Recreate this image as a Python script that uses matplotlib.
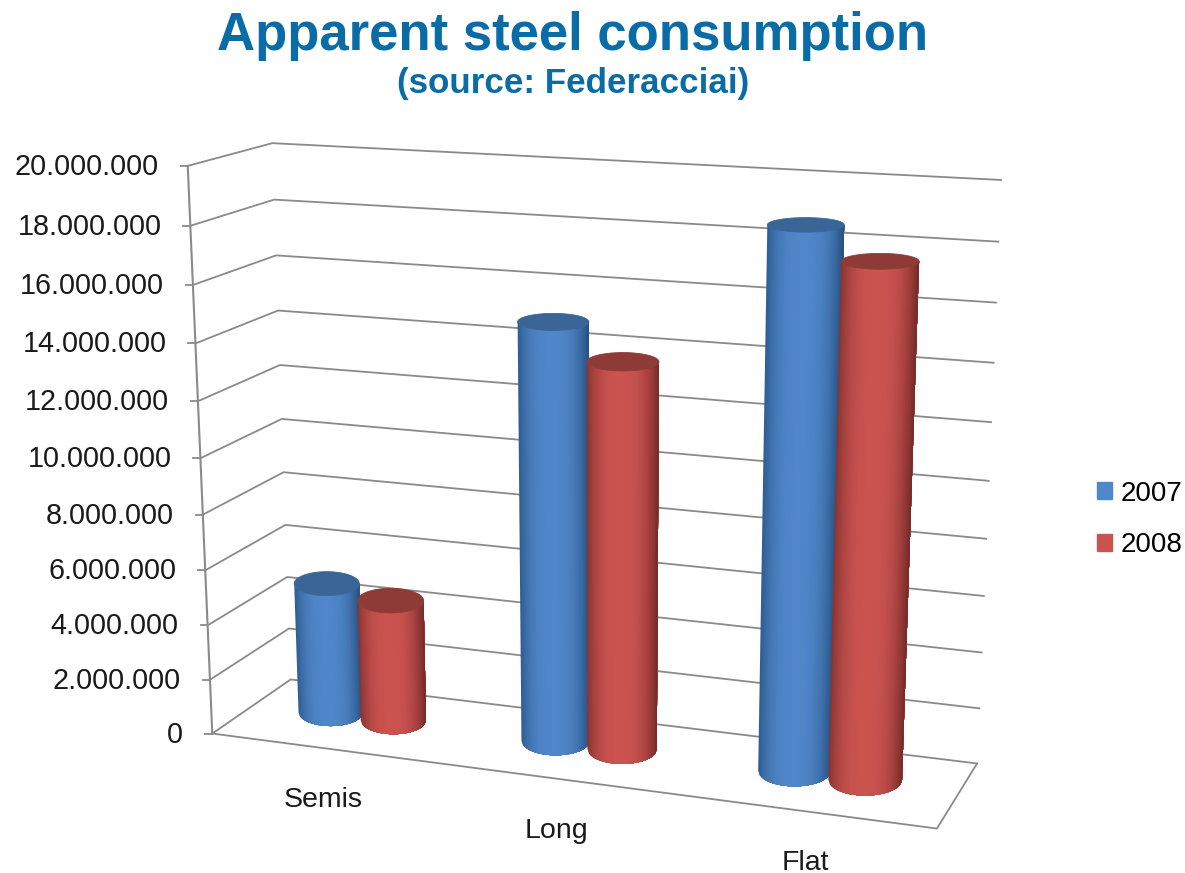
import numpy as np
import matplotlib
matplotlib.use("Agg")
import matplotlib.pyplot as plt
from matplotlib.collections import PolyCollection
from matplotlib.patches import Patch

plt.rcParams['font.family'] = ['Liberation Sans', 'DejaVu Sans']

# data
categories = ["Semis", "Long", "Flat"]
series_names = ["2007", "2008"]
values_2007 = [4850000, 14900000, 18650000]
values_2008 = [4480000, 13720000, 17620000]
tick_values = [0, 2000000, 4000000, 6000000, 8000000, 10000000, 12000000, 14000000, 16000000, 18000000, 20000000]
tick_labels = ["0", "2.000.000", "4.000.000", "6.000.000", "8.000.000", "10.000.000",
               "12.000.000", "14.000.000", "16.000.000", "18.000.000", "20.000.000"]
y_max = 20000000

# colours: centre, edge, top
blue = ("#5087CA", "#2A5688", "#3A6597")
red = ("#CB5350", "#7E2F2D", "#8E3B38")
grid_col = "#8A8A8A"
title_col = "#0A6CA6"

# fit the 3d box of the chart to the picture (x, value, depth) -> pixel
box_world = np.array([[0, 0, 0], [0, 1, 0], [0, 0, 1], [0, 1, 1], [1, 1, 1], [1, 0, 1], [1, 0, 0]], float)
box_pix = np.array([[212, 733], [188, 166], [291, 680], [272, 143], [1001, 180], [977, 763], [937, 829]], float)
rows = []
for (a, b, c), (u, v) in zip(box_world, box_pix):
    rows.append([a, b, c, 1, 0, 0, 0, 0, -u * a, -u * b, -u * c, -u])
    rows.append([0, 0, 0, 0, a, b, c, 1, -v * a, -v * b, -v * c, -v])
cam = np.linalg.svd(np.array(rows))[2][-1].reshape(3, 4)


def project(x, val, z):
    x, val, z = np.broadcast_arrays(np.asarray(x, float), np.asarray(val, float), np.asarray(z, float))
    p = np.stack([x, val / y_max, z, np.ones_like(x)])
    q = cam @ p.reshape(4, -1)
    return (q[0] / q[2]).reshape(x.shape), (q[1] / q[2]).reshape(x.shape)


def ellipse(cx, cz, rx, rz, val, th):
    # level ellipse on screen, sized by the projection at that height
    px, py = project(cx, val, cz)
    x0 = project(cx - rx, val, cz)[0]
    x1 = project(cx + rx, val, cz)[0]
    y0 = project(cx, val, cz + rz)[1]
    y1 = project(cx, val, cz - rz)[1]
    return px + (x1 - x0) / 2 * np.cos(th), py + (y1 - y0) / 2 * np.sin(th)


def cylinder(ax, cx, cz, rx, rz, val, cols):
    # each strip runs on to the right side and the next one paints over it, so no seams
    u = np.linspace(-1, 1, 49)
    th = np.arccos(u)
    bx, by = ellipse(cx, cz, rx, rz, 0, th)
    tx, ty = ellipse(cx, cz, rx, rz, val, th)
    mid = (u[:-1] + u[1:]) / 2
    c0 = np.array(matplotlib.colors.to_rgb(cols[0]))
    c1 = np.array(matplotlib.colors.to_rgb(cols[1]))
    polys, fc = [], []
    for i in range(len(mid)):
        bottom = np.column_stack([bx[i:], by[i:]])
        top = np.column_stack([tx[i:], ty[i:]])[::-1]
        polys.append(np.vstack([bottom, top]))
        s = abs(mid[i] + 0.05) ** 2.6
        fc.append(c0 + (c1 - c0) * s)
    body = PolyCollection(polys, facecolors=fc, edgecolors="none", zorder=3)
    body.set_snap(False)
    ax.add_collection(body)
    cap = np.linspace(0, 2 * np.pi, 121)
    ex, ey = ellipse(cx, cz, rx, rz, val, cap)
    ax.fill(ex, ey, color=cols[2], lw=0.6, zorder=3)


fig = plt.figure(figsize=(11.85, 8.73), dpi=100)
ax = fig.add_axes([0, 0, 1, 1])
ax.set_xlim(0, 1185)
ax.set_ylim(873, 0)
ax.axis("off")

# walls
for v, lab in zip(tick_values, tick_labels):
    xs, ys = project([0, 0, 1], v, [0, 1, 1])
    ax.plot(xs, ys, color=grid_col, lw=1.3, zorder=1)
    ax.plot([xs[0] - 7, xs[0]], [ys[0], ys[0]], color=grid_col, lw=1.3, zorder=1)
    ax.text(xs[0] - 29, ys[0] + 1, lab, ha="right", va="center", fontsize=20.7, color="#1a1a1a")
xs, ys = project([0, 0], [0, y_max], [0, 0])
ax.plot(xs, ys, color=grid_col, lw=1.5, zorder=1)
xs, ys = project([0, 1, 1], 0, [0, 0, 1])
ax.plot(xs, ys, color=grid_col, lw=1.3, zorder=1)

# cylinders
n_cat = len(categories)
rx = 0.049
rz = 0.25
for i in range(n_cat):
    c = (i + 0.5) / n_cat
    cylinder(ax, c - 0.0525, 0.55, rx, rz, values_2007[i], blue)
    cylinder(ax, c + 0.0425, 0.55, rx, rz, values_2008[i], red)
    lx, ly = project(c, 0, 0)
    ax.text(lx - 1, ly + 52, categories[i], ha="center", va="center", fontsize=20.5, color="#1a1a1a")

ax.text(572.5, 36, "Apparent steel consumption", ha="center", va="center", fontsize=38,
        fontweight="bold", color=title_col)
ax.text(573, 84, "(source: Federacciai)", ha="center", va="center", fontsize=25.2,
        fontweight="bold", color=title_col)

handles = [Patch(color=blue[0], label=series_names[0]), Patch(color=red[0], label=series_names[1])]
ax.legend(handles=handles, loc="center left", bbox_to_anchor=(1097 / 1185, 1 - 519.5 / 873), frameon=False,
          fontsize=20, handlelength=0.55, handleheight=0.55, labelspacing=0.93, handletextpad=0.29,
          borderpad=0, borderaxespad=0)

fig.savefig("out.png", dpi=100)
